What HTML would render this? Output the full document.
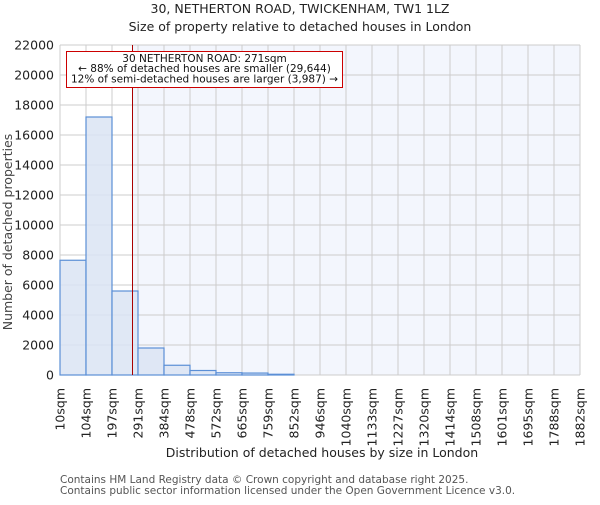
<!DOCTYPE html>
<html><head><meta charset="utf-8"><style>
body{margin:0;background:#fff}
svg{font-family:"DejaVu Sans","Liberation Sans",sans-serif}
</style></head><body>
<svg id="c" width="600" height="500" viewBox="0 0 600 500">
<text x="300" y="13" text-anchor="middle" font-size="12.5" fill="#222">30, NETHERTON ROAD, TWICKENHAM, TW1 1LZ</text>
<text x="300" y="31" text-anchor="middle" font-size="12.5" fill="#222">Size of property relative to detached houses in London</text>
<g id="plot"></g>
<text x="322" y="457" text-anchor="middle" font-size="12.5" fill="#222">Distribution of detached houses by size in London</text>
<text transform="translate(12,232) rotate(-90)" text-anchor="middle" font-size="12.5" fill="#444">Number of detached properties</text>
<text x="60" y="483" font-size="10.5" fill="#555">Contains HM Land Registry data © Crown copyright and database right 2025.</text>
<text x="60" y="494" font-size="10.5" fill="#555">Contains public sector information licensed under the Open Government Licence v3.0.</text>
</svg>
<script>
const binLabels=["10sqm","104sqm","197sqm","291sqm","384sqm","478sqm","572sqm","665sqm","759sqm","852sqm","946sqm","1040sqm","1133sqm","1227sqm","1320sqm","1414sqm","1508sqm","1601sqm","1695sqm","1788sqm","1882sqm"];
const counts=[7650,17200,5600,1800,650,300,150,130,50,0,0,0,0,0,0,0,0,0,0,0];
const yTicks=[0,2000,4000,6000,8000,10000,12000,14000,16000,18000,20000,22000];
const binStart=10, binWidth=93.6, markerValue=271;
const L=60,R=580,T=45,B=375,yMax=22000;
const NS="http://www.w3.org/2000/svg";
const g=document.getElementById('plot');
const xs=i=>L+(R-L)*i/counts.length;
const xv=v=>L+(v-binStart)/binWidth*(R-L)/counts.length;
const y=v=>B-(B-T)*v/yMax;
function mk(t,a,p){const e=document.createElementNS(NS,t);for(const k in a)e.setAttribute(k,a[k]);(p||g).appendChild(e);return e;}
const mx=xv(markerValue);
let e=mk('rect',{x:mx,y:T,width:R-mx,height:B-T,fill:'#f3f6fd'});


yTicks.forEach(t=>{
 let l=mk('line',{x1:L,x2:R,y1:y(t),y2:y(t),stroke:'#ccc','stroke-width':1});
 
 
 let tx=mk('text',{x:L-6,y:y(t)+4.5,'text-anchor':'end','font-size':12.5,fill:'#222'});
 tx.textContent=t;
 
 
});
binLabels.forEach((lb,i)=>{
 let l=mk('line',{x1:xs(i),x2:xs(i),y1:T,y2:B,stroke:'#ccc','stroke-width':1});
 
 
 let tx=mk('text',{transform:`translate(${xs(i)+4.5},388) rotate(-90)`,'text-anchor':'end','font-size':12.5,fill:'#222'});
 tx.textContent=lb;
 
 
});
counts.forEach((c,i)=>{
 if(c<=0)return;
 let r=mk('rect',{x:xs(i),y:y(c),width:xs(i+1)-xs(i),height:B-y(c),fill:'#dae4f3',stroke:'#5b8fd6','stroke-width':1.2,'fill-opacity':0.85});
 
 
});
e=mk('line',{x1:mx,x2:mx,y1:T,y2:B,stroke:'#a00','stroke-width':1});


e=mk('rect',{x:66.5,y:51.5,width:276,height:36,fill:'#fff',stroke:'#c00','stroke-width':1});


["30 NETHERTON ROAD: 271sqm","← 88% of detached houses are smaller (29,644)","12% of semi-detached houses are larger (3,987) →"].forEach((s,i)=>{
 let t=mk('text',{x:204.5,y:62+i*10.2,'text-anchor':'middle','font-size':10.5,fill:'#111'});
 t.textContent=s;
 
 
});
</script>
</body></html>
